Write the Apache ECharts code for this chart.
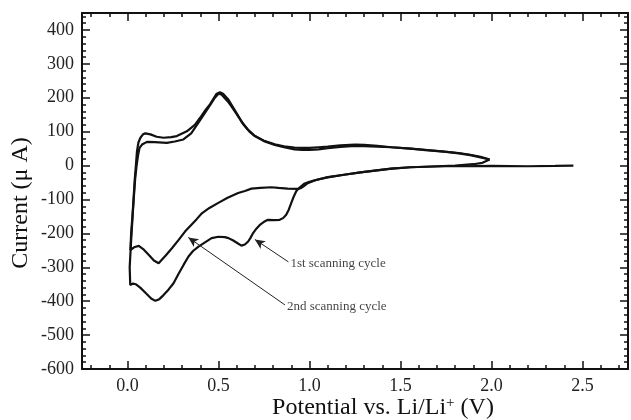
<!DOCTYPE html>
<html>
<head>
<meta charset="utf-8">
<script src="https://cdn.jsdelivr.net/npm/echarts@6/dist/echarts.min.js"></script>
<style>
  html, body { margin: 0; padding: 0; background: #fff; }
  #chart { width: 631px; height: 420px; }
</style>
</head>
<body>
<div id="chart"></div>
<script>
// cyclic voltammogram
// 1st scanning cycle: cathodic from OCV down to 0 V, then anodic up to 2 V
const cycle1V = [2.45, 2.35, 2.2, 2.0, 1.85, 1.74, 1.555, 1.45, 1.37, 1.28, 1.19, 1.1, 1.045, 1.0, 0.97, 0.954,
  0.94, 0.927, 0.913, 0.9, 0.886, 0.872, 0.855, 0.836, 0.805, 0.772, 0.75, 0.727, 0.708, 0.69, 0.675, 0.663,
  0.645, 0.626, 0.605, 0.581, 0.555, 0.535, 0.5, 0.462, 0.43, 0.39, 0.36, 0.335, 0.308, 0.28, 0.253, 0.225,
  0.198, 0.175, 0.153, 0.13, 0.1, 0.07, 0.045, 0.03, 0.015, 0.007,
  0.012, 0.02, 0.028, 0.034, 0.042, 0.05, 0.058, 0.066, 0.08, 0.107, 0.15, 0.216, 0.26, 0.307, 0.35, 0.4,
  0.45, 0.48, 0.5, 0.515, 0.55, 0.572, 0.6, 0.626, 0.66, 0.7, 0.75, 0.809, 0.86, 0.918, 0.96, 1.0, 1.05,
  1.1, 1.17, 1.25, 1.3, 1.373, 1.45, 1.555, 1.65, 1.74, 1.82, 1.883, 1.94, 1.99];
const cycle1I = [0, -1, -2, -1, -2, -2, -5, -9, -14, -20, -27, -35, -41, -48, -54, -61,
  -68, -76, -92, -110, -130, -145, -155, -160, -161, -160, -166, -175, -186, -199, -214, -224,
  -233, -236, -229, -221, -214, -211, -210, -214, -225, -239, -252, -268, -293, -320, -347, -366,
  -382, -394, -399, -392, -376, -360, -350, -348, -352, -356,
  -300, -220, -150, -100, -40, 0, 30, 52, 62, 70, 69, 67, 71, 77, 95, 135,
  175, 200, 212, 210, 190, 174, 152, 130, 107, 87, 72, 61, 54, 48, 46, 46, 48,
  51, 55, 58, 57, 56, 54, 50, 46, 41, 37, 32, 26, 18];

// 2nd scanning cycle: cathodic from 2 V down to 0 V, then anodic back
const cycle2V = [1.99, 1.95, 1.9, 1.8, 1.7, 1.555, 1.45, 1.37, 1.28, 1.19, 1.1, 1.027, 0.99, 0.973, 0.955,
  0.936, 0.88, 0.83, 0.79, 0.73, 0.681, 0.645, 0.608, 0.55, 0.499, 0.45, 0.41, 0.38, 0.35, 0.317, 0.28,
  0.244, 0.21, 0.171, 0.145, 0.12, 0.09, 0.062, 0.04, 0.016,
  0.02, 0.027, 0.033, 0.04, 0.046, 0.052, 0.06, 0.071, 0.085, 0.098, 0.126, 0.16, 0.198, 0.24, 0.271,
  0.326, 0.37, 0.399, 0.43, 0.454, 0.49, 0.508, 0.525, 0.554, 0.58, 0.61, 0.636, 0.67, 0.7, 0.75, 0.809,
  0.86, 0.918, 0.96, 1.0, 1.05, 1.1, 1.17, 1.25, 1.3, 1.373, 1.45, 1.555, 1.65, 1.74, 1.82, 1.883, 1.99];
const cycle2I = [18, 8, 4, 0, -2, -5, -9, -14, -20, -27, -34, -44, -52, -59, -66,
  -69, -68, -66, -64, -66, -68, -75, -81, -95, -110, -125, -140, -158, -175, -194, -220,
  -244, -265, -288, -280, -265, -248, -237, -240, -249,
  -200, -150, -100, -40, 0, 42, 68, 82, 92, 95, 92, 85, 82, 84, 87,
  101, 120, 141, 165, 181, 212, 216, 212, 195, 172, 145, 122, 100, 87, 73, 63,
  57, 53, 52, 52, 54, 56, 60, 62, 61, 58, 54, 50, 45, 41, 36, 31, 18];

// annotations: [tail V, tail I, head V, head I]
const noteLabels = ['1st scanning cycle', '2nd scanning cycle'];
const noteArrows = [[0.884, -284, 0.70, -218], [0.865, -411, 0.334, -212]];

// axis ticks
const xRange = [-0.25, 2.75];
const yRange = [-600, 450];
const xMajor = [0, 0.5, 1.0, 1.5, 2.0, 2.5];
const yMajor = [-600, -500, -400, -300, -200, -100, 0, 100, 200, 300, 400];

const xMinor = [];
for (let i = -2; i <= 27; i++) {
  if (i % 5 !== 0) xMinor.push(i / 10);
}
const yMinor = [];
for (let v = -580; v <= 440; v += 20) {
  if (v % 100 !== 0) yMinor.push(v);
}

const zip = (a, b) => a.map((v, i) => [v, b[i]]);

const serif = "'Liberation Serif', 'Times New Roman', serif";
const ink = '#111';

function makeAxis(pos, range, major, minor, isMajor, extra) {
  return Object.assign({
    type: 'value',
    position: pos,
    min: range[0],
    max: range[1],
    splitLine: { show: false },
    axisLine: { show: isMajor, onZero: false, lineStyle: { color: ink, width: 2 } },
    axisTick: {
      show: true,
      inside: true,
      length: isMajor ? 8 : 4,
      customValues: isMajor ? major : minor,
      lineStyle: { color: ink, width: 1.5 }
    },
    axisLabel: { show: false }
  }, extra || {});
}

const chart = echarts.init(document.getElementById('chart'), null, { renderer: 'canvas' });

const option = {
  animation: false,
  backgroundColor: '#fff',
  grid: { left: 82, right: 3, top: 13, bottom: 51, containLabel: false, outerBoundsMode: 'none' },
  xAxis: [
    makeAxis('bottom', xRange, xMajor, xMinor, true, {
      name: 'Potential vs. Li/Li{sup|+} (V)',
      nameLocation: 'middle',
      nameGap: 27,
      nameMoveOverlap: false,
      nameTextStyle: {
        fontFamily: serif, fontSize: 24, color: ink,
        padding: [0, 0, 0, 56],
        rich: { sup: { fontFamily: serif, fontSize: 15, color: ink, verticalAlign: 'top', padding: [0, 0, 8, 0] } }
      },
      axisLabel: {
        show: true, customValues: xMajor, margin: 8,
        fontFamily: serif, fontSize: 18, color: '#222',
        formatter: v => v.toFixed(1)
      }
    }),
    makeAxis('bottom', xRange, xMajor, xMinor, false),
    makeAxis('top', xRange, xMajor, xMinor, true),
    makeAxis('top', xRange, xMajor, xMinor, false)
  ],
  yAxis: [
    makeAxis('left', yRange, yMajor, yMinor, true, {
      name: 'Current (\u03bc A)',
      nameLocation: 'middle',
      nameGap: 49,
      nameMoveOverlap: false,
      nameTextStyle: { fontFamily: serif, fontSize: 24, color: ink, padding: [0, 24, 0, 0] },
      axisLabel: {
        show: true, customValues: yMajor, margin: 8,
        fontFamily: serif, fontSize: 18, color: '#222'
      }
    }),
    makeAxis('left', yRange, yMajor, yMinor, false),
    makeAxis('right', yRange, yMajor, yMinor, true),
    makeAxis('right', yRange, yMajor, yMinor, false)
  ],
  series: [
    {
      name: '1st cycle',
      type: 'line',
      data: zip(cycle1V, cycle1I),
      showSymbol: false,
      lineStyle: { color: ink, width: 2.2 },
      silent: true,
      markLine: {
        silent: true,
        symbol: ['none', 'arrow'],
        symbolSize: [7, 10],
        label: { show: false },
        lineStyle: { color: '#222', width: 1, type: 'solid' },
        data: noteArrows.map(a => [{ coord: [a[0], a[1]] }, { coord: [a[2], a[3]] }])
      }
    },
    {
      name: '2nd cycle',
      type: 'line',
      data: zip(cycle2V, cycle2I),
      showSymbol: false,
      lineStyle: { color: ink, width: 2.2 },
      silent: true
    },
    {
      name: 'notes',
      type: 'scatter',
      symbolSize: 0,
      silent: true,
      data: noteArrows.map((a, i) => ({ value: [a[0], a[1]], name: noteLabels[i] })),
      label: {
        show: true,
        position: 'right',
        distance: 2,
        offset: [0, 2],
        formatter: p => p.name,
        fontFamily: serif,
        fontSize: 13,
        color: ink
      }
    }
  ]
};

chart.setOption(option);
</script>
</body>
</html>
